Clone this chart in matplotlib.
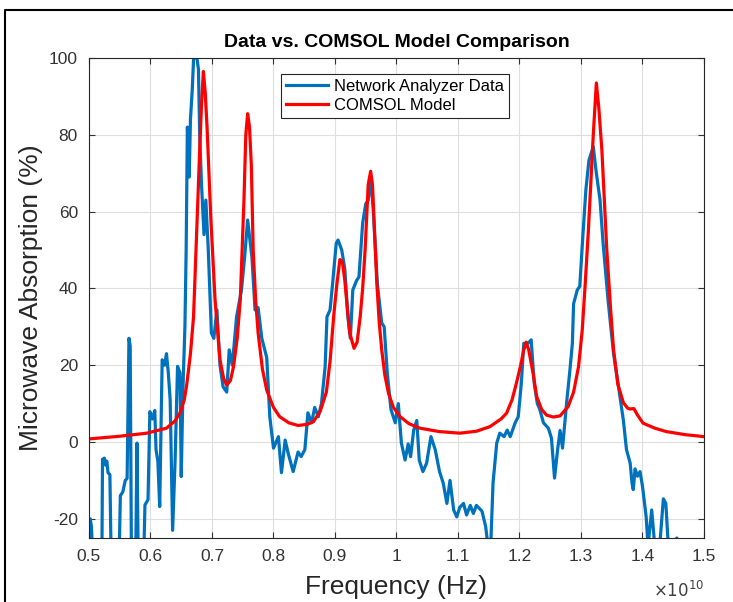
import matplotlib
matplotlib.use('Agg')
import matplotlib.pyplot as plt
from matplotlib.lines import Line2D

plt.rcParams['font.family'] = ['Liberation Sans', 'DejaVu Sans']
plt.rcParams['axes.unicode_minus'] = False

# frequency in units of 1e10 Hz, absorption in %
model_freq = [0.500, 0.550, 0.594, 0.626, 0.640, 0.648, 0.655, 0.659, 0.665, 0.670,
              0.676, 0.680, 0.683, 0.686, 0.689, 0.692, 0.698, 0.705, 0.713, 0.719,
              0.724, 0.730, 0.735, 0.741, 0.746, 0.752, 0.755, 0.758, 0.761, 0.764,
              0.767, 0.771, 0.775, 0.782, 0.789, 0.800, 0.810, 0.825, 0.840, 0.855,
              0.865, 0.876, 0.886, 0.892, 0.898, 0.903, 0.908, 0.912, 0.916, 0.920,
              0.924, 0.931, 0.936, 0.941, 0.945, 0.949, 0.954, 0.958, 0.961, 0.964,
              0.968, 0.972, 0.976, 0.981, 0.987, 0.995, 1.006, 1.020, 1.038, 1.070,
              1.103, 1.130, 1.152, 1.170, 1.179, 1.188, 1.195, 1.202, 1.207, 1.211,
              1.215, 1.222, 1.228, 1.236, 1.244, 1.255, 1.266, 1.279, 1.288, 1.296,
              1.302, 1.307, 1.312, 1.316, 1.320, 1.325, 1.329, 1.334, 1.338, 1.342,
              1.348, 1.353, 1.360, 1.369, 1.376, 1.380, 1.386, 1.392, 1.401, 1.420,
              1.439, 1.470, 1.500]
model_abs = [0.8, 1.5, 2.3, 3.6, 5.5, 7.6, 11, 15, 23, 32.6,
             58.6, 76, 88, 96.5, 91, 82, 58.6, 37, 21.4, 16.5,
             14.8, 16, 19.6, 27, 37, 63, 80, 85.5, 82, 72,
             50, 37, 28.4, 19, 13.5, 9, 6.6, 5, 4.3, 4.6,
             5.3, 8, 13, 21, 33, 41, 47.5, 47, 42, 35,
             28.4, 24.4, 26, 32.6, 40, 50, 67, 70.5, 67, 56,
             41.4, 31, 24, 17.5, 12.7, 9, 6.6, 4.8, 3.6, 2.7,
             2.3, 2.8, 4, 6, 7.5, 11, 15.3, 20, 24, 26,
             24, 18, 11.8, 8.5, 7, 6.5, 6.8, 9.2, 13, 19.6,
             29, 41.4, 55, 67.4, 80, 93.5, 87, 76, 63, 50,
             35, 24, 15, 10.2, 8.8, 8.6, 8.7, 7, 4.9, 3.6,
             2.7, 1.9, 1.4]

data_freq = [0.500, 0.502, 0.504, 0.506, 0.521, 0.522, 0.525, 0.527, 0.529, 0.531,
             0.534, 0.536, 0.549, 0.551, 0.555, 0.559, 0.562, 0.565, 0.567, 0.569,
             0.576, 0.578, 0.580, 0.589, 0.591, 0.596, 0.599, 0.603, 0.607, 0.609,
             0.612, 0.615, 0.619, 0.623, 0.626, 0.629, 0.632, 0.636, 0.640, 0.644,
             0.648, 0.650, 0.653, 0.656, 0.658, 0.660, 0.663, 0.665, 0.668, 0.670,
             0.674, 0.678, 0.680, 0.683, 0.687, 0.690, 0.694, 0.699, 0.703, 0.708,
             0.713, 0.718, 0.724, 0.728, 0.733, 0.740, 0.748, 0.753, 0.758, 0.765,
             0.770, 0.775, 0.781, 0.789, 0.794, 0.800, 0.808, 0.813, 0.819, 0.824,
             0.832, 0.840, 0.845, 0.851, 0.856, 0.862, 0.867, 0.873, 0.878, 0.884,
             0.887, 0.892, 0.896, 0.902, 0.905, 0.911, 0.916, 0.921, 0.925, 0.929,
             0.935, 0.939, 0.945, 0.950, 0.954, 0.958, 0.962, 0.969, 0.976, 0.980,
             0.985, 0.991, 0.998, 1.003, 1.008, 1.014, 1.019, 1.023, 1.028, 1.033,
             1.037, 1.043, 1.049, 1.056, 1.063, 1.070, 1.076, 1.082, 1.087, 1.093,
             1.098, 1.103, 1.109, 1.114, 1.120, 1.125, 1.130, 1.139, 1.145, 1.151,
             1.153, 1.157, 1.163, 1.168, 1.175, 1.180, 1.185, 1.193, 1.198, 1.203,
             1.207, 1.214, 1.219, 1.224, 1.229, 1.233, 1.239, 1.247, 1.252, 1.257,
             1.262, 1.266, 1.270, 1.274, 1.277, 1.282, 1.286, 1.288, 1.294, 1.298,
             1.303, 1.308, 1.313, 1.320, 1.325, 1.331, 1.336, 1.344, 1.353, 1.361,
             1.369, 1.374, 1.380, 1.383, 1.385, 1.388, 1.392, 1.396, 1.400, 1.406,
             1.409, 1.415, 1.420, 1.428, 1.434, 1.438, 1.442, 1.456, 1.460, 1.500]
data_abs = [-30, -20, -22, -30, -30, -4.5, -4.2, -6, -5, -8,
            -8.5, -30, -30, -14, -13, -10, -9.5, 27, 25, -30,
            -30, -0.3, -30, -30, -16.4, -15, 7.9, 6, 8.2, -2,
            -5, -16.8, 21.4, 20, 23, 18, 11, -23, -5, 19.7,
            18, -9, 15, 30, 50, 82, 69, 84, 92, 99.5,
            102, 97, 80, 67, 54, 63, 50, 28.4, 27, 34.4,
            20, 14.4, 13, 24, 20, 32.6, 39.6, 48, 57.8, 48,
            34.4, 35, 27, 22, 6.6, -1.6, 1.4, -8, 0.5, -3,
            -7.7, -2.6, -3.8, -2, 7.6, 5, 9, 6.6, 10, 19.6,
            32.6, 34.4, 41, 51.7, 52.6, 50, 45, 32.6, 27, 39.6,
            42, 43, 57, 62, 63, 68.5, 61, 41, 31, 30,
            18, 8.5, 5, 10, -0.3, -4.7, -0.5, -3.8, 3.1, 5.6,
            -4.7, -7.7, -5.5, 1.4, -2, -7.7, -10.7, -16, -10, -17.7,
            -19.5, -17, -16, -19, -16.5, -18.6, -16.5, -18, -22, -30,
            -28, -10.7, -0.3, 2.3, 1.4, 3.1, 1.4, 5, 6.6, 15.3,
            25.7, 25.7, 26.6, 15.3, 10, 8.5, 5, 3.6, 1, -9.4,
            -2, 3, -1.6, 5.6, 10.8, 18.7, 25.7, 36, 39.6, 40.5,
            53.5, 65.7, 73.4, 76.9, 70, 63, 51.7, 37, 23, 14.4,
            5.6, -2, -5.5, -10.7, -12.4, -7, -8.9, -7.7, -11.5, -19.5,
            -27, -17.7, -27, -27, -14.8, -16, -27, -25, -35, -35]

xticks = [0.5, 0.6, 0.7, 0.8, 0.9, 1.0, 1.1, 1.2, 1.3, 1.4, 1.5]
yticks = [-20, 0, 20, 40, 60, 80, 100]

fig = plt.figure(figsize=(7.33, 6.02), dpi=100)
ax = fig.add_axes([0.1214, 0.1063, 0.8390, 0.7974])

ax.plot(data_freq, data_abs, color='#0072BD', linewidth=2.3, label='Network Analyzer Data')
ax.plot(model_freq, model_abs, color='#FF0000', linewidth=2.3, label='COMSOL Model')

ax.set_xlim(0.5, 1.5)
ax.set_ylim(-25, 100)
ax.set_xticks(xticks)
ax.set_xticklabels(['%g' % t for t in xticks])
ax.set_yticks(yticks)
ax.grid(True, color='#dedede', linewidth=0.8)
ax.set_axisbelow(True)
ax.tick_params(direction='in', top=True, right=True, length=4, width=0.8,
               labelsize=12.5, colors='#333333', pad=8)
for s in ax.spines.values():
    s.set_color('#262626')
    s.set_linewidth(0.8)

ax.set_title('Data vs. COMSOL Model Comparison', fontsize=14, fontweight='bold', pad=8)
ax.set_xlabel('Frequency (Hz)', fontsize=19, color='#262626', labelpad=8)
ax.set_ylabel('Microwave Absorption (%)', fontsize=19, color='#262626', labelpad=4)
ax.text(1.0, -0.108, r'$\times10^{10}$', transform=ax.transAxes, ha='right', va='center',
        fontsize=12, color='#404040')

leg = ax.legend(loc='upper left', bbox_to_anchor=(0.312, 0.967), fontsize=12,
                fancybox=False, framealpha=1, edgecolor='#262626', handlelength=2.5,
                borderpad=0.3, labelspacing=0.25, handletextpad=0.4, borderaxespad=0)
leg.get_frame().set_linewidth(0.8)

# figure frame (top and left edges visible in the original screenshot)
fig.add_artist(Line2D([5 / 733, 5 / 733, 1.0], [0.0, 1 - 10 / 602, 1 - 10 / 602],
                      transform=fig.transFigure, color='black', linewidth=1.5))

fig.savefig('out.png', dpi=100)
